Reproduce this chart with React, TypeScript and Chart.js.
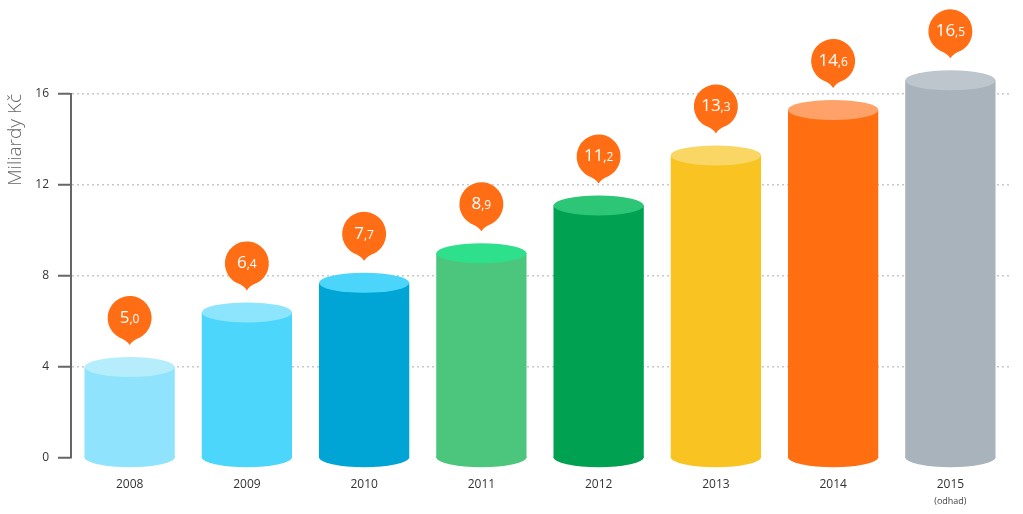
import React, { useEffect, useRef } from "react";
import { Chart, registerables } from "chart.js";

Chart.register(...registerables);

const years = ["2008", "2009", "2010", "2011", "2012", "2013", "2014", "2015"];
const yearNotes = ["", "", "", "", "", "", "", "(odhad)"];
const barValues = [4.0, 6.4, 7.7, 9.0, 11.1, 13.3, 15.3, 16.6];
const bubbleValues = [5.0, 6.4, 7.7, 8.9, 11.2, 13.3, 14.6, 16.5];
const bodyColors = ["#8FE3FC", "#4DD6FC", "#00A5D6", "#4CC67C", "#00A151", "#F9C322", "#FF6F12", "#A9B3BB"];
const topColors = ["#B5EDFD", "#8CE5FD", "#4CD5FB", "#2EE08C", "#2CC676", "#FAD664", "#FFA26A", "#BEC6CD"];
const yTicks = [0, 4, 8, 12, 16];
const yTitle = "Miliardy Kč";

const FONT = "'Open Sans', sans-serif";
const BUBBLE = "#FF6E14";

const cylinderPlugin = {
  id: "cylinders",
  afterDatasetsDraw(chart: any) {
    const ctx = chart.ctx;
    const meta = chart.getDatasetMeta(0);
    meta.data.forEach((el: any, i: number) => {
      const { x, y, base, width } = el.getProps(["x", "y", "base", "width"], true);
      const rx = width / 2;
      const ry = 10;
      ctx.save();
      ctx.fillStyle = bodyColors[i];
      ctx.fillRect(x - rx, y, width, base - y);
      ctx.beginPath();
      ctx.ellipse(x, base, rx, ry, 0, 0, Math.PI * 2);
      ctx.fill();
      ctx.fillStyle = topColors[i];
      ctx.beginPath();
      ctx.ellipse(x, y, rx, ry, 0, 0, Math.PI * 2);
      ctx.fill();
      ctx.restore();
    });
  },
};

const bubblePlugin = {
  id: "bubbles",
  afterDraw(chart: any) {
    const ctx = chart.ctx;
    const meta = chart.getDatasetMeta(0);
    meta.data.forEach((el: any, i: number) => {
      const { x, y } = el.getProps(["x", "y"], true);
      const tip = y - 10 - 12;
      const r = 22;
      const cy = tip - 27;
      const th = (28 * Math.PI) / 180;
      ctx.save();
      ctx.fillStyle = BUBBLE;
      ctx.beginPath();
      ctx.arc(x, cy, r, Math.PI / 2 + th, Math.PI / 2 - th + Math.PI * 2, false);
      ctx.quadraticCurveTo(x + 3, tip - 5, x, tip);
      ctx.quadraticCurveTo(x - 3, tip - 5, x - r * Math.sin(th), cy + r * Math.cos(th));
      ctx.closePath();
      ctx.fill();
      const s = bubbleValues[i].toFixed(1).split(".");
      const main = s[0];
      const dec = "," + s[1];
      const f1 = `17px ${FONT}`;
      const f2 = `12px ${FONT}`;
      ctx.font = f1;
      const w1 = ctx.measureText(main).width;
      ctx.font = f2;
      const w2 = ctx.measureText(dec).width;
      const start = x - (w1 + w2) / 2;
      ctx.fillStyle = "#FFFFFF";
      ctx.textAlign = "left";
      ctx.textBaseline = "alphabetic";
      ctx.font = f1;
      ctx.fillText(main, start, cy + 5);
      ctx.font = f2;
      ctx.fillText(dec, start + w1, cy + 5);
      ctx.restore();
    });
    const xs = chart.scales.x;
    ctx.save();
    ctx.fillStyle = "#444";
    ctx.font = `9px ${FONT}`;
    ctx.textAlign = "center";
    ctx.textBaseline = "middle";
    yearNotes.forEach((n, i) => {
      if (n) ctx.fillText(n, xs.getPixelForValue(i), 501);
    });
    ctx.restore();
  },
};

export default function App() {
  const ref = useRef<HTMLCanvasElement>(null);
  useEffect(() => {
    if (!ref.current) return;
    Chart.defaults.font.family = FONT;
    const chart = new Chart(ref.current, {
      type: "bar",
      data: {
        labels: years,
        datasets: [
          {
            data: barValues,
            backgroundColor: "rgba(0,0,0,0)",
            borderWidth: 0,
            barPercentage: 0.77,
            categoryPercentage: 1,
          },
        ],
      },
      options: {
        responsive: false,
        animation: false,
        layout: { padding: { top: 94, right: 14, left: 0, bottom: 0 } },
        plugins: { legend: { display: false }, tooltip: { enabled: false } },
        scales: {
          x: {
            grid: { display: false, drawTicks: false },
            border: { display: false },
            ticks: { color: "#333", font: { size: 12, family: FONT }, padding: 19, maxRotation: 0 },
            afterFit: (s: any) => {
              s.height = 56;
            },
          },
          y: {
            min: 0,
            max: 16,
            afterBuildTicks: (s: any) => {
              s.ticks = yTicks.map((v) => ({ value: v }));
            },
            ticks: { color: "#333", font: { size: 12, family: FONT }, padding: 9 },
            grid: {
              color: (c: any) => (c.tick && c.tick.value === 0 ? "rgba(0,0,0,0)" : "#C8C8C8"),
              lineWidth: 1.5,
              tickColor: "#666",
              tickLength: 13,
              tickWidth: 2,
              tickBorderDash: [],
            },
            border: { display: true, color: "#666", width: 2, dash: [2, 3] },
            title: {
              display: true,
              text: yTitle,
              align: "end",
              color: "#666",
              font: { size: 19, family: FONT, weight: "300" },
              padding: { top: 4, bottom: 0 },
            },
            afterFit: (s: any) => {
              s.width = 71;
            },
          },
        },
      },
      plugins: [cylinderPlugin, bubblePlugin],
    } as any);
    return () => chart.destroy();
  }, []);
  return (
    <div style={{ position: "absolute", left: 0, top: 0, width: 1023, height: 514 }}>
      <canvas ref={ref} width={1023} height={514} style={{ display: "block" }} />
    </div>
  );
}
